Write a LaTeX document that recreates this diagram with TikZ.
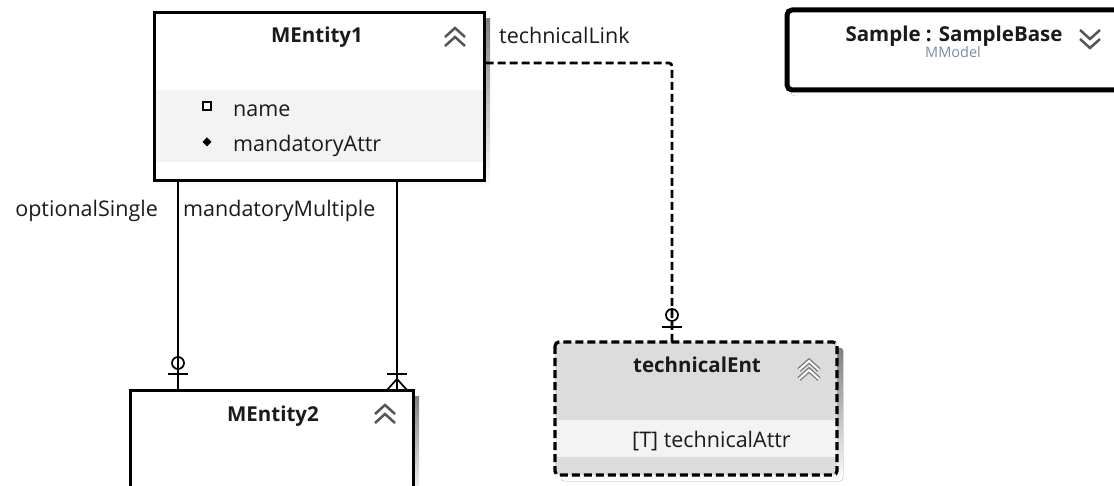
\documentclass[tikz,border=0pt]{standalone}
\usepackage{fontspec}
\setmainfont{Open Sans}
\usetikzlibrary{calc}
\definecolor{txt}{HTML}{1A1A1A}
\definecolor{shade}{HTML}{C4C4C4}
\definecolor{band}{HTML}{F3F3F3}
\definecolor{techfill}{HTML}{DCDCDC}
\definecolor{chevc}{HTML}{555555}
\definecolor{subc}{HTML}{7A8CA8}
\tikzset{
  frame/.style={draw=black, line width=3pt},
  boxnode/.style={anchor=north west, inner sep=0pt, outer sep=0pt},
  title/.style={anchor=base, font=\bfseries\fontsize{20.5}{24}\selectfont, text=txt, inner sep=0pt},
  attr/.style={anchor=base west, font=\fontsize{21.5}{25}\selectfont, text=txt, inner sep=0pt},
  rolelabel/.style={font=\fontsize{21.5}{25}\selectfont, text=txt, inner sep=0pt},
  conn/.style={draw=black, line width=2.5pt},
  techconn/.style={conn, line width=2.7pt, dash pattern=on 8pt off 4pt},
  chev/.style={draw=chevc, line width=2.5pt, line join=miter, line cap=butt},
  chevup/.pic={
    \draw[chev] (-10,-1) -- (0,-10) -- (10,-1);
    \draw[chev] (-10,8) -- (0,-1) -- (10,8);
  },
  chevdown/.pic={
    \draw[chev] (-10,-8) -- (0,1) -- (10,-8);
    \draw[chev] (-10,1) -- (0,10) -- (10,1);
  },
}
\begin{document}
\begin{tikzpicture}[x=1pt,y=-1pt]
\useasboundingbox (0,0) rectangle (1114,486);
\clip (0,0) rectangle (1114,486);

% ---- MEntity1 ----
\fill[shade] (160,19) rectangle (490,187);
\node[boxnode, fill=white, minimum width=330pt, minimum height=168pt] (e1) at (154,13) {};
\fill[band] ($(e1.north west)+(0,77)$) rectangle ($(e1.north east)+(0,149)$);
\draw[frame] (e1.north west) rectangle (e1.south east);
\node[title] (e1t) at (317,43) {MEntity1};
\pic at (455,38) {chevup};
\draw[black, line width=1.3pt, fill=white] (203,102) rectangle (211,110);
\fill[black] (207,137.5) -- (211.5,142) -- (207,146.5) -- (202.5,142) -- cycle;
\node[attr] (a1) at (233,117) {name};
\node[attr] (a2) at (233,152) {mandatoryAttr};

% ---- MEntity2 ----
\fill[shade] (136,396) rectangle (419,500);
\node[boxnode, fill=white, minimum width=283pt, minimum height=120pt] (e2) at (130,390) {};
\draw[frame] (e2.north west) rectangle (e2.south east);
\node[title] (e2t) at (273,421) {MEntity2};
\pic at (385,415) {chevup};

% ---- technicalEnt ----
\fill[shade, rounded corners=3pt] (561,348) rectangle (843,481);
\node[boxnode, fill=techfill, minimum width=282pt, minimum height=133pt] (te) at (555,342) {};
\fill[band] ($(te.north west)+(0,78)$) rectangle ($(te.north east)+(0,115)$);
\draw[frame, line width=3.2pt, dash pattern=on 8pt off 4pt, rounded corners=4pt] (te.north west) rectangle (te.south east);
\node[title] (tet) at (697,373) {technicalEnt};
\begin{scope}[shift={(809,371)}]
  \draw[chev, line width=4.6pt, draw=chevc!80] (-10,-1) -- (0,-10) -- (10,-1);
  \draw[chev, line width=4.6pt, draw=chevc!80] (-10,8) -- (0,-1) -- (10,8);
  \draw[chev, line width=2pt, draw=white] (-10,-1) -- (0,-10) -- (10,-1);
  \draw[chev, line width=2pt, draw=white] (-10,8) -- (0,-1) -- (10,8);
\end{scope}
\node[attr] (ta) at (632,447) {[T] technicalAttr};

% ---- Sample : SampleBase ----
\fill[shade, rounded corners=4pt] (791,16) rectangle (1130,96);
\node[boxnode, fill=white, minimum width=340pt, minimum height=80pt] (sm) at (787,10) {};
\draw[draw=black, line width=5pt, rounded corners=5pt] (sm.north west) rectangle (sm.south east);
\node[title] (smt) at (954,42) {Sample : SampleBase};
\node[anchor=base, font=\fontsize{14.5}{16}\selectfont, text=subc, inner sep=0pt] (smm) at (953,58) {MModel};
\pic at (1090,38) {chevdown};

% ---- optionalSingle : MEntity1 -> MEntity2 (zero or one) ----
\coordinate (o1) at ([xshift=24pt]e1.south west);
\draw[conn] (o1) -- (o1 |- e2.north);
\draw[conn] ($(o1 |- e2.north)+(-10,-16)$) -- ($(o1 |- e2.north)+(10,-16)$);
\draw[conn, line width=1.7pt] ($(o1 |- e2.north)+(0,-27)$) circle[radius=6pt];
\node[rolelabel, anchor=base east] (l1) at (158,217) {optionalSingle};

% ---- mandatoryMultiple : MEntity1 -> MEntity2 (one or many) ----
\coordinate (o2) at ([xshift=243pt]e1.south west);
\draw[conn] (o2) -- (o2 |- e2.north);
\draw[conn] ($(o2 |- e2.north)+(-10,-16)$) -- ($(o2 |- e2.north)+(10,-16)$);
\draw[conn, line width=1.7pt] ($(o2 |- e2.north)+(-10,0)$) -- ($(o2 |- e2.north)+(0,-11)$) -- ($(o2 |- e2.north)+(10,0)$);
\node[rolelabel, anchor=base west] (l2) at (183,217) {mandatoryMultiple};

% ---- technicalLink : MEntity1 -> technicalEnt (zero or one) ----
\coordinate (te1) at ([xshift=117pt]te.north west);
\coordinate (t0) at (e1.east |- 0,63);
\coordinate (tc) at (te1 |- t0);
\draw[techconn, rounded corners=3pt] ([xshift=1.5pt]t0) -- (tc) -- (te1);
\draw[conn] ($(te1)+(-10,-15)$) -- ($(te1)+(10,-15)$);
\draw[conn, line width=1.7pt] ($(te1)+(0,-27)$) circle[radius=6pt];
\node[rolelabel, anchor=base west] (l3) at (499,44) {technicalLink};
\end{tikzpicture}
\end{document}
